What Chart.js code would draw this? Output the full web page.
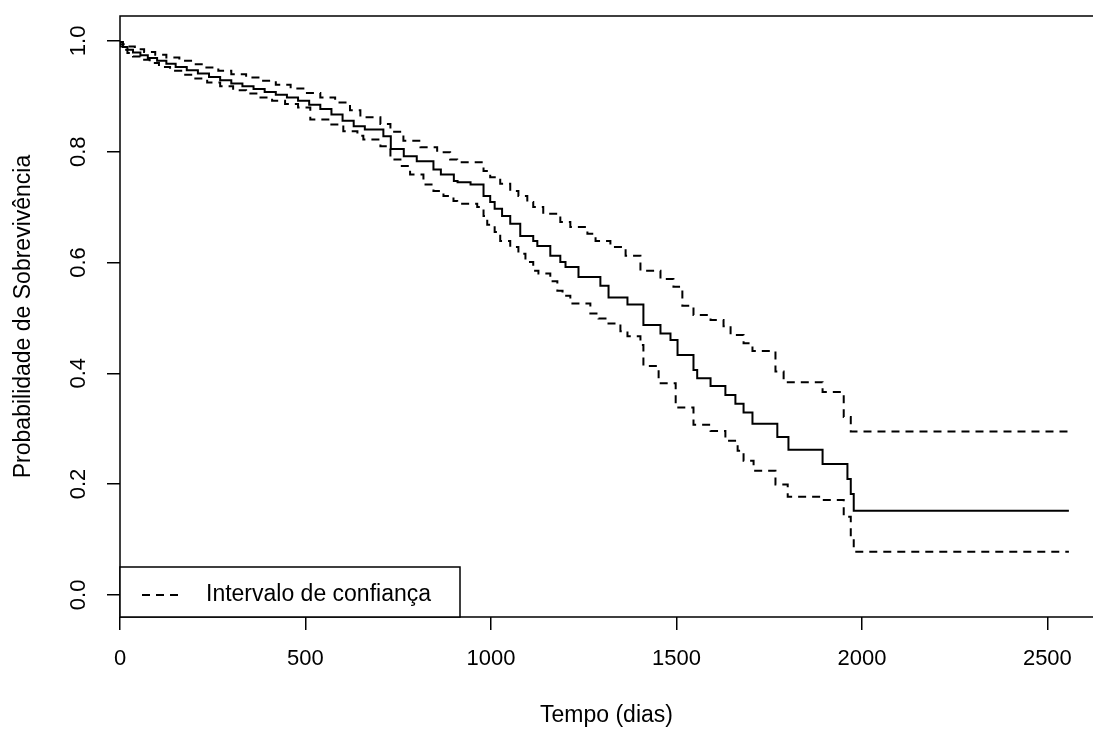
<!DOCTYPE html>
<html lang="pt">
<head>
    <meta charset="UTF-8">
    <title>Curva de Sobrevivência</title>
    <script src="https://cdn.jsdelivr.net/npm/chart.js"></script>
    <style>
        body { margin: 0; background: #fff; }
        canvas { display: block; }
    </style>
</head>
<body>
    <canvas id="kmChart" width="1093" height="731"></canvas>

    <script>
        // Kaplan-Meier estimate
        const estTime = [0, 8, 20, 35, 55, 75, 100, 125, 150, 180, 210, 240, 270, 300, 330, 360, 390, 420, 450, 480, 510, 540, 570, 600, 630, 660, 710, 730, 765, 800, 845, 865, 900, 910, 945, 980, 998, 1010, 1030, 1052, 1079, 1114, 1125, 1160, 1187, 1201, 1236, 1295, 1317, 1368, 1411, 1457, 1484, 1503, 1546, 1556, 1592, 1632, 1659, 1681, 1705, 1772, 1802, 1894, 1961, 1970, 1978, 2097, 2558];
        const estSurv = [1.0, 0.994, 0.989, 0.984, 0.979, 0.974, 0.969, 0.964, 0.959, 0.953, 0.947, 0.941, 0.935, 0.929, 0.923, 0.918, 0.913, 0.908, 0.903, 0.898, 0.892, 0.885, 0.877, 0.867, 0.856, 0.846, 0.840, 0.828, 0.805, 0.792, 0.783, 0.768, 0.759, 0.747, 0.745, 0.741, 0.720, 0.709, 0.697, 0.684, 0.670, 0.648, 0.639, 0.630, 0.612, 0.601, 0.592, 0.574, 0.558, 0.537, 0.524, 0.487, 0.472, 0.460, 0.433, 0.406, 0.391, 0.377, 0.361, 0.345, 0.329, 0.309, 0.285, 0.262, 0.236, 0.209, 0.182, 0.152, 0.152];

        // upper confidence limit
        const upperTime = [0, 8, 20, 40, 65, 95, 125, 160, 195, 230, 265, 300, 340, 380, 420, 460, 500, 540, 580, 620, 648, 702, 729, 764, 810, 855, 890, 909, 980, 998, 1025, 1052, 1074, 1098, 1114, 1141, 1187, 1214, 1260, 1282, 1322, 1363, 1403, 1457, 1492, 1516, 1546, 1592, 1627, 1646, 1681, 1705, 1767, 1789, 1894, 1951, 1970, 2097, 2558];
        const upperSurv = [1.0, 0.998, 0.994, 0.990, 0.985, 0.980, 0.975, 0.970, 0.964, 0.958, 0.952, 0.946, 0.940, 0.934, 0.928, 0.921, 0.914, 0.906, 0.898, 0.889, 0.875, 0.862, 0.850, 0.836, 0.820, 0.808, 0.799, 0.786, 0.781, 0.765, 0.754, 0.742, 0.729, 0.720, 0.709, 0.700, 0.688, 0.673, 0.664, 0.652, 0.639, 0.628, 0.612, 0.585, 0.570, 0.556, 0.522, 0.505, 0.496, 0.485, 0.469, 0.454, 0.440, 0.403, 0.384, 0.366, 0.321, 0.295, 0.295];

        // lower confidence limit
        const lowerTime = [0, 8, 20, 35, 55, 80, 105, 135, 165, 200, 235, 270, 305, 340, 375, 410, 445, 480, 513, 567, 602, 640, 656, 702, 729, 756, 782, 818, 845, 872, 899, 909, 963, 980, 990, 1010, 1025, 1052, 1074, 1093, 1114, 1128, 1160, 1179, 1193, 1214, 1268, 1290, 1314, 1349, 1368, 1403, 1411, 1452, 1498, 1546, 1592, 1632, 1665, 1681, 1708, 1767, 1800, 1894, 1951, 1970, 1978, 2097, 2558];
        const lowerSurv = [1.0, 0.990, 0.984, 0.978, 0.972, 0.966, 0.960, 0.953, 0.946, 0.939, 0.932, 0.925, 0.918, 0.911, 0.905, 0.898, 0.892, 0.886, 0.880, 0.858, 0.849, 0.837, 0.829, 0.822, 0.810, 0.786, 0.774, 0.759, 0.741, 0.729, 0.720, 0.711, 0.706, 0.700, 0.684, 0.668, 0.655, 0.639, 0.628, 0.616, 0.601, 0.585, 0.580, 0.566, 0.549, 0.540, 0.526, 0.508, 0.499, 0.490, 0.476, 0.467, 0.451, 0.413, 0.382, 0.338, 0.307, 0.296, 0.278, 0.260, 0.242, 0.224, 0.199, 0.177, 0.171, 0.141, 0.103, 0.078, 0.078];

        const xTicks = [0, 500, 1000, 1500, 2000, 2500];
        const yTicks = [0, 0.2, 0.4, 0.6, 0.8, 1.0];

        const xTitle = 'Tempo (dias)';
        const yTitle = 'Probabilidade de Sobrevivência';
        const legendLabel = 'Intervalo de confiança';

        const FONT = 'Liberation Sans, Arial, sans-serif';
        const DASH = [8, 6];

        const toPoints = (ts, ss) => ts.map((t, i) => ({ x: t, y: ss[i] }));

        // plot box + legend in the bottom left corner (like R's legend("bottomleft"))
        const boxAndLegend = {
            id: 'boxAndLegend',
            afterDraw(chart) {
                const { ctx, chartArea: a } = chart;
                ctx.save();
                ctx.strokeStyle = '#000';
                ctx.lineWidth = 1.5;
                ctx.beginPath();
                ctx.moveTo(a.right + 2, a.top);
                ctx.lineTo(a.left, a.top);
                ctx.lineTo(a.left, a.bottom);
                ctx.lineTo(a.right + 2, a.bottom);
                ctx.stroke();

                // legend
                const lx = a.left, ly = a.bottom - 50, lw = 340, lh = 50;
                ctx.fillStyle = '#fff';
                ctx.fillRect(lx, ly, lw, lh);
                ctx.strokeRect(lx, ly, lw, lh);
                const my = ly + lh / 2 + 3;
                ctx.lineWidth = 2;
                ctx.setLineDash(DASH);
                ctx.beginPath();
                ctx.moveTo(lx + 22, my);
                ctx.lineTo(lx + 60, my);
                ctx.stroke();
                ctx.setLineDash([]);
                ctx.fillStyle = '#000';
                ctx.font = '23px ' + FONT;
                ctx.textBaseline = 'middle';
                ctx.textAlign = 'left';
                ctx.fillText(legendLabel, lx + 86, my);
                ctx.restore();
            }
        };

        const ctx = document.getElementById('kmChart').getContext('2d');
        new Chart(ctx, {
            type: 'line',
            data: {
                datasets: [
                    { label: 'Estimativa', data: toPoints(estTime, estSurv), borderColor: '#000', borderWidth: 2, stepped: 'after', pointRadius: 0, fill: false },
                    { label: 'Superior', data: toPoints(upperTime, upperSurv), borderColor: '#000', borderWidth: 2, borderDash: DASH, stepped: 'after', pointRadius: 0, fill: false },
                    { label: 'Inferior', data: toPoints(lowerTime, lowerSurv), borderColor: '#000', borderWidth: 2, borderDash: DASH, stepped: 'after', pointRadius: 0, fill: false }
                ]
            },
            options: {
                responsive: false,
                animation: false,
                devicePixelRatio: 1,
                layout: { padding: { top: 16, left: 0, right: 0, bottom: 0 } },
                plugins: {
                    legend: { display: false },
                    tooltip: { enabled: false }
                },
                scales: {
                    x: {
                        type: 'linear',
                        min: 0,
                        max: 2623,
                        afterBuildTicks: (s) => { s.ticks = xTicks.map((v) => ({ value: v })); },
                        afterFit: (s) => { s.height = 114; s.paddingLeft = 0; s.paddingRight = 0; },
                        border: { display: false },
                        grid: { drawOnChartArea: false, drawTicks: true, tickLength: 13, color: '#000', lineWidth: 1.5 },
                        ticks: {
                            padding: 16,
                            color: '#000',
                            font: { family: FONT, size: 22 },
                            maxRotation: 0,
                            callback: (v) => String(v)
                        },
                        title: { display: true, text: xTitle, color: '#000', font: { family: FONT, size: 23 }, padding: { top: 0, bottom: 2 } }
                    },
                    y: {
                        type: 'linear',
                        min: -0.04,
                        max: 1.045,
                        afterBuildTicks: (s) => { s.ticks = yTicks.map((v) => ({ value: v })); },
                        afterFit: (s) => { s.width = 120; s.paddingTop = 0; s.paddingBottom = 0; },
                        border: { display: false },
                        grid: { drawOnChartArea: false, drawTicks: true, tickLength: 13, color: '#000', lineWidth: 1.5 },
                        ticks: {
                            padding: 13,
                            minRotation: 90,
                            maxRotation: 90,
                            crossAlign: 'center',
                            color: '#000',
                            font: { family: FONT, size: 22 },
                            callback: (v) => v.toFixed(1)
                        },
                        title: { display: true, text: yTitle, color: '#000', font: { family: FONT, size: 23 }, padding: { top: 10, bottom: 0 } }
                    }
                }
            },
            plugins: [boxAndLegend]
        });
    </script>
</body>
</html>
